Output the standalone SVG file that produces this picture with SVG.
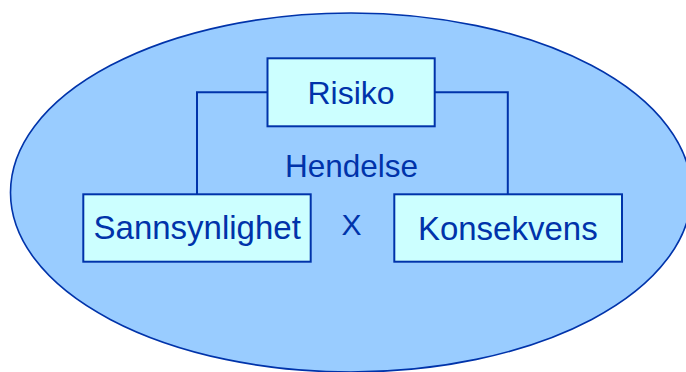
<svg xmlns="http://www.w3.org/2000/svg" width="686" height="372" viewBox="0 0 686 372">
<style>
.box{fill:#CCFFFF;stroke:#0033AA;stroke-width:2}
.lbl{font-family:"Liberation Sans",Arial,sans-serif;fill:#0033AA;text-anchor:middle}
.con{fill:none;stroke:#0033AA;stroke-width:2}
</style>
<rect width="686" height="372" fill="#FFFFFF"/>
<g id="hendelse-ellipse">
<ellipse cx="351" cy="192.5" rx="340.5" ry="179.5" fill="#99CCFF" stroke="#0033AA" stroke-width="1.6"/>
</g>
<g id="connectors">
<polyline class="con" points="267.5,92.3 197,92.3 197,194.3"/>
<polyline class="con" points="434.7,92.3 507.8,92.3 507.8,194.3"/>
</g>
<g id="risiko">
<rect class="box" x="267.5" y="58.3" width="167.2" height="68"/>
<text class="lbl" x="351" y="104.3" font-size="32">Risiko</text>
</g>
<g id="hendelse-label">
<text class="lbl" x="351.5" y="177" font-size="31.5">Hendelse</text>
</g>
<g id="x-label">
<text class="lbl" x="351.5" y="235" font-size="30">X</text>
</g>
<g id="sannsynlighet">
<rect class="box" x="83.3" y="194.3" width="227.4" height="67.4"/>
<text class="lbl" x="197.2" y="239.3" font-size="33">Sannsynlighet</text>
</g>
<g id="konsekvens">
<rect class="box" x="394.3" y="194.3" width="227.7" height="67.4"/>
<text class="lbl" x="507.8" y="240" font-size="33">Konsekvens</text>
</g>
</svg>
